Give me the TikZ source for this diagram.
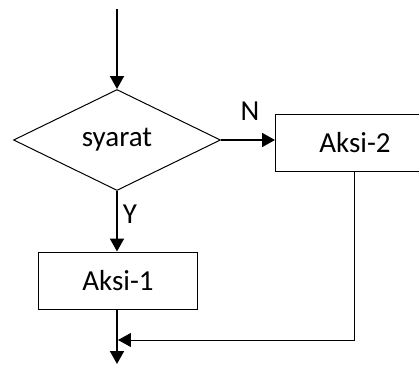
\documentclass[tikz,border=0pt]{standalone}
\usepackage{fontspec}
\setmainfont{Carlito}
\usepackage{tikz}
\usetikzlibrary{arrows.meta, positioning, calc, shapes.geometric}

\tikzset{
  decision/.style={draw, diamond, line width=0.5pt, inner sep=0pt, minimum width=103.5pt, minimum height=50.5pt},
  process/.style={draw, rectangle, line width=0.5pt, inner sep=0pt, minimum width=79.5pt, minimum height=28.5pt},
  flow/.style={line width=1pt, -{Triangle[length=6.5pt, width=7pt]}},
  back/.style={line width=0.5pt, -{Triangle[length=6.5pt, width=7pt]}},
  branch/.style={inner sep=0pt}
}

\begin{document}
\begin{tikzpicture}[x=0.5pt, y=-0.5pt, font=\fontsize{14.5}{17}\selectfont]
  \useasboundingbox (0,0) rectangle (419,365);

  % Shapes
  \node[decision] (syarat) at (117,140) {syarat};
  \node[process] (aksi1) at (118,280.5) {Aksi-1};
  \node[process] (aksi2) at (355,142.5) {Aksi-2};

  % Free ends
  \coordinate (start) at (117,9);
  \coordinate (end) at (117,364);
  \coordinate (join) at (118,340);

  % Flow
  \draw[flow] (start) -- (syarat.north);
  \draw[flow] (syarat.east) -- (syarat.east -| aksi2.west);
  \node[branch] (no) at (250,111) {N};
  \draw[flow] (syarat.south) -- (syarat.south |- aksi1.north);
  \node[branch] (yes) at (130,214) {Y};
  \draw[flow] (syarat.south |- aksi1.south) -- (end);

  % Return from Aksi-2
  \draw[back] (aksi2.south) |- (join);
\end{tikzpicture}
\end{document}
